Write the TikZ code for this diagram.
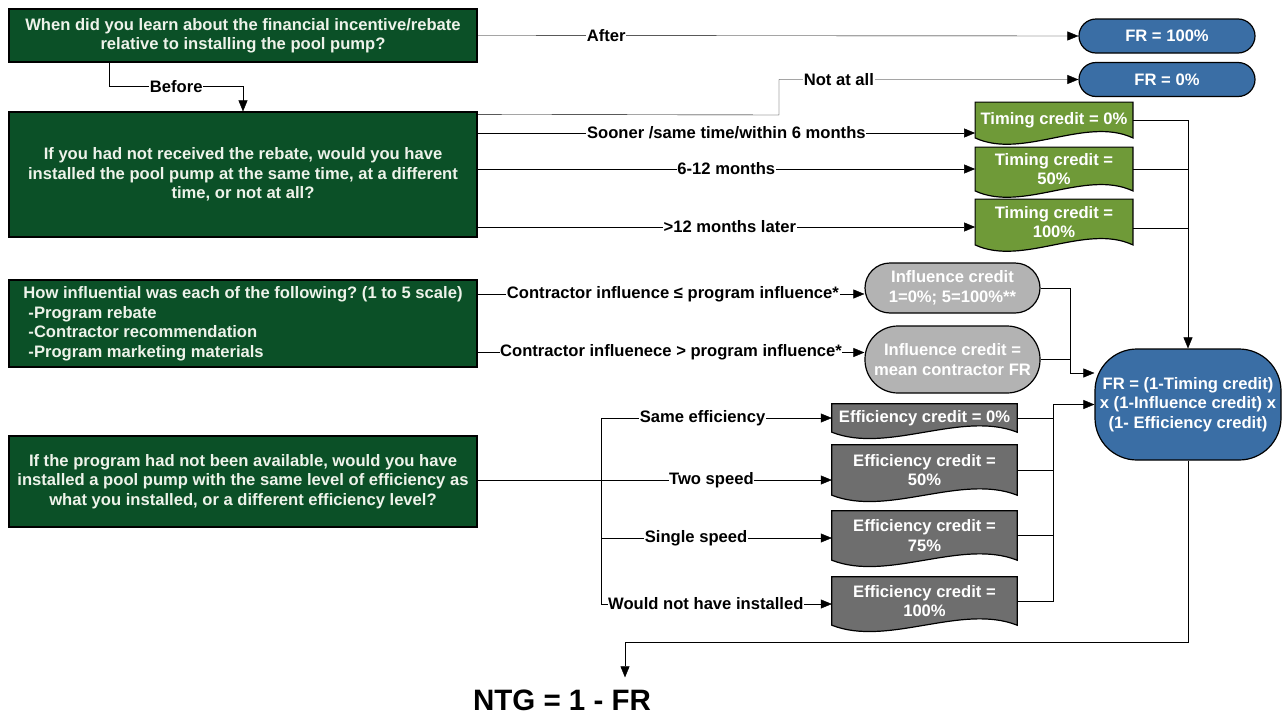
\documentclass[tikz,border=0pt]{standalone}
\usepackage{fontspec}
\setmainfont{Liberation Sans}
\usetikzlibrary{arrows.meta,calc}
\pgfdeclarelayer{bg}
\pgfsetlayers{bg,main}
\definecolor{dkgreen}{HTML}{0B5027}
\definecolor{qtext}{HTML}{EEF3EA}
\definecolor{tgreen}{HTML}{6F9A38}
\definecolor{frblue}{HTML}{3A6EA5}
\definecolor{lgrey}{HTML}{B3B3B3}
\definecolor{dgrey}{HTML}{6E6E6E}
\frenchspacing
\newcommand{\docsh}[2]{%
  \begin{pgfonlayer}{bg}
  \path[fill=#2,draw=black,line width=1.2pt] let \p1=(#1.south west), \p2=(#1.north east) in
    (\x1,\y2) -- (\x2,\y2) -- (\x2,\y1)
    .. controls ({\x2-0.3*(\x2-\x1)},{\y1+22pt}) and ({\x1+0.3*(\x2-\x1)},{\y1-22pt}) .. (\x1,\y1) -- cycle;
  \end{pgfonlayer}}
\begin{document}
\frenchspacing
\begin{tikzpicture}[x=1pt,y=-1pt,line width=1.8pt,
  every node/.style={font=\fontsize{16.6}{19.5}\selectfont\bfseries},
  arr/.style={-{Triangle[length=11pt,width=9pt]}},
  lbl/.style={fill=white,inner sep=0.6pt,text=black},
  qbox/.style={draw=black,line width=1.2pt,fill=dkgreen,text=qtext,align=center,minimum width=468pt,inner sep=0pt},
  term/.style={draw=black,line width=1.2pt,fill=frblue,text=white,align=center,minimum width=176pt,minimum height=34pt,rounded corners=17pt,inner sep=0pt},
  tdoc/.style={minimum width=156pt,inner sep=0pt,align=center,text=white},
  edoc/.style={minimum width=185pt,inner sep=0pt,align=center,text=white},
  inf/.style={draw=black,line width=1.2pt,fill=lgrey,text=white,align=center,minimum width=175pt,inner sep=0pt}]
\useasboundingbox (0,0) rectangle (1283,715);

% question boxes
\node[qbox,minimum height=53pt] (q1) at (243,35.5) {When did you learn about the financial incentive/rebate\\relative to installing the pool pump?};
\node[qbox,minimum height=125pt] (q2) at (243,174.5) {If you had not received the rebate, would you have\\installed the pool pump at the same time, at a different\\time, or not at all?};
\node[qbox,minimum height=87pt,align=left] (q3) at (243,323.5) {How influential was each of the following? (1 to 5 scale)\\\hspace*{5pt}-Program rebate\\\hspace*{5pt}-Contractor recommendation\\\hspace*{5pt}-Program marketing materials};
\node[qbox,minimum height=91pt] (q4) at (243,481.5) {If the program had not been available, would you have\\installed a pool pump with the same level of efficiency as\\what you installed, or a different efficiency level?};

% terminal nodes
\node[term] (fr100) at (1167,36) {FR = 100\%};
\node[term] (fr0) at (1167,79.5) {FR = 0\%};

% timing credit
\node[tdoc,minimum height=34pt] (t0) at (1054,120) {Timing credit = 0\%};
\node[tdoc,minimum height=42pt] (t50) at (1054,169) {Timing credit =\\50\%};
\node[tdoc,minimum height=44pt] (t100) at (1054,222) {Timing credit =\\100\%};
\docsh{t0}{tgreen}
\docsh{t50}{tgreen}
\docsh{t100}{tgreen}

% influence credit
\node[inf,minimum height=50pt,rounded corners=25pt] (in1) at (952.5,288) {Influence credit\\1=0\%; 5=100\%**};
\node[inf,minimum height=67pt,rounded corners=33pt] (in2) at (952.5,359.5) {Influence credit =\\mean contractor FR};

% FR
\node[term,minimum width=186pt,minimum height=111pt,rounded corners=42pt] (fr) at (1188,404.5) {FR = (1-Timing credit)\\x (1-Influence credit) x\\(1- Efficiency credit)};

% efficiency credit
\node[edoc,minimum height=28pt] (e0) at (924.5,418) {Efficiency credit = 0\%};
\node[edoc,minimum height=50pt] (e50) at (924.5,470) {Efficiency credit =\\50\%};
\node[edoc,minimum height=49pt] (e75) at (924.5,535.5) {Efficiency credit =\\75\%};
\node[edoc,minimum height=48pt] (e100) at (924.5,601) {Efficiency credit =\\100\%};
\docsh{e0}{dgrey}
\docsh{e50}{dgrey}
\docsh{e75}{dgrey}
\docsh{e100}{dgrey}

% NTG
\node[font=\fontsize{29.5}{34}\selectfont\bfseries,inner sep=0pt] (ntg) at (562,700) {NTG = 1 - FR};

% connectors: Q1
\draw[arr] (q1.east) -- node[lbl,pos=0.214]{After} (fr100.west);
\draw[arr] ([xshift=101pt]q1.south west) |- node[lbl,pos=0.75]{Before} ($(q2.north)+(0,-25)$) -- (q2.north);

% connectors: Q2
\draw[arr] ([yshift=-3pt]q2.north east) -- (779,115) |- node[lbl,pos=0.6]{Not at all} (fr0.west);
\coordinate (t0in) at ([yshift=-13pt]t0.west);
\coordinate (t100in) at ([yshift=-5pt]t100.west);
\draw[arr] (q2.east |- t0in) -- node[lbl,pos=0.5]{Sooner /same time/within 6 months} (t0in);
\draw[arr] (q2.east |- t50.west) -- node[lbl,pos=0.5]{6-12 months} (t50.west);
\draw[arr] (q2.east |- t100in) -- node[lbl,pos=0.507]{>12 months later} (t100in);

% timing to FR
\coordinate (t100out) at ([yshift=-6pt]t100.east);
\draw[arr] (t0.east) -| (fr.north);
\draw (t50.east) -- (t50.east -| fr.north);
\draw (t100out) -- (t100out -| fr.north);

% connectors: Q3
\coordinate (i1in) at ([yshift=-6pt]in1.west);
\coordinate (i2in) at ([yshift=7pt]in2.west);
\draw[arr] (q3.east |- i1in) -- node[lbl,pos=0.505]{Contractor influence ≤ program influence*} (i1in);
\draw[arr] (q3.east |- i2in) -- node[lbl,pos=0.5]{Contractor influenece > program influence*} (i2in);

% influence to FR
\coordinate (iv) at (1070,373);
\coordinate (frin1) at ([yshift=31.5pt]fr.west);
\draw[arr] (in1.east) -| (iv) -- (frin1);
\draw (in2.east) -- (in2.east -| iv);

% connectors: Q4
\coordinate (br) at (601,480);
\coordinate (e50in) at ([yshift=-10pt]e50.west);
\coordinate (e75in) at ([yshift=-2.5pt]e75.west);
\coordinate (e100in) at ([yshift=-3pt]e100.west);
\draw[arr] (q4.east |- e50in) -- node[lbl,pos=0.66]{Two speed} (e50in);
\draw[arr] (br) |- node[lbl,pos=0.72]{Same efficiency} (e0.west);
\draw[arr] (br) |- node[lbl,pos=0.706]{Single speed} (e75in);
\draw[arr] (br) |- node[lbl,pos=0.727]{Would not have installed} (e100in);

% efficiency to FR
\coordinate (ev) at (1053,404.5);
\draw[arr] (e100.east) -| (ev) -- (fr.west);
\draw (e0.east) -- (e0.east -| ev);
\draw (e50.east) -- (e50.east -| ev);
\draw (e75.east) -- (e75.east -| ev);

% FR to NTG
\coordinate (ntgin) at ([xshift=63pt,yshift=12pt]ntg.north);
\draw[arr] (fr.south) |- ($(ntgin)+(0,-35)$) -- (ntgin);
\end{tikzpicture}
\end{document}
